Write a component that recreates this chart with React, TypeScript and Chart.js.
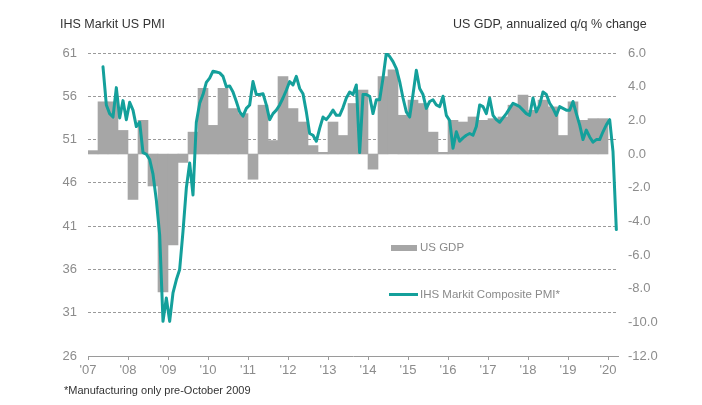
import React, { useEffect, useRef } from "react";
import { Chart, registerables } from "chart.js";

Chart.register(...registerables);

// ---- Data ----
// X positions are months counted from Jan 2007 (0 = Jan 2007)
const yearTickLabels = ["'07", "'08", "'09", "'10", "'11", "'12", "'13", "'14", "'15", "'16", "'17", "'18", "'19", "'20"];

// IHS Markit PMI, monthly, May 2007 .. Mar 2020
const pmiStartMonth = 4; // May 2007
const pmiValues = [
  59.4, 55.0, 54.0, 53.6, 57.0, 53.5, 55.5, 53.3, // May-Dec 2007
  55.3, 54.4, 52.5, 53.0, 49.5, 49.3, 48.7, 47.0, 44.0, 40.0, 30.0, 32.7, // 2008
  30.0, 33.3, 34.8, 36.0, 40.4, 45.4, 48.3, 44.6, 53.0, 55.2, 56.2, 57.6, // 2009
  58.1, 58.9, 58.8, 58.7, 58.3, 57.1, 57.2, 56.5, 55.4, 54.2, 53.7, 54.6, // 2010
  55.0, 57.7, 56.2, 56.2, 56.3, 55.0, 53.3, 54.0, 54.4, 55.0, 55.8, 56.7, // 2011
  57.7, 57.3, 58.3, 56.9, 56.3, 54.2, 51.7, 51.5, 50.8, 52.3, 53.6, 53.3, // 2012
  53.8, 54.4, 53.8, 53.8, 54.7, 55.8, 56.5, 56.2, 57.3, 49.5, 56.2, 56.2, // 2013
  56.0, 54.0, 55.6, 55.6, 58.1, 61.0, 60.6, 60.0, 59.2, 57.7, 55.8, 54.2, // 2014
  53.6, 56.2, 59.0, 56.9, 56.2, 54.6, 55.4, 55.6, 55.0, 54.8, 56.0, 53.8, // 2015
  53.2, 50.0, 51.9, 50.8, 51.2, 51.5, 51.7, 51.5, 52.5, 55.0, 54.8, 54.0, // 2016
  55.8, 53.8, 53.3, 53.0, 53.5, 54.0, 54.6, 55.2, 55.0, 54.8, 54.4, 54.0, // 2017
  53.8, 55.8, 54.2, 55.0, 56.5, 56.2, 55.2, 54.6, 53.8, 54.8, 54.6, 54.4, // 2018
  54.4, 55.4, 54.0, 52.7, 51.0, 52.1, 51.3, 50.7, 51.0, 51.0, 51.9, 52.7, // 2019
  53.3, 49.6, 40.6, // Jan-Mar 2020
];

// US GDP, annualized q/q % change, Q1 2007 .. Q4 2019
const gdpStartQuarter = 0; // Q1 2007
const gdpValues = [
  0.2, 3.1, 3.1, 1.4, // 2007
  -2.7, 2.0, -1.9, -8.2, // 2008
  -5.4, -0.5, 1.3, 3.9, // 2009
  1.7, 3.9, 2.7, 2.4, // 2010
  -1.5, 2.9, 0.8, 4.6, // 2011
  2.7, 1.9, 0.5, 0.1, // 2012
  1.9, 1.1, 3.0, 3.8, // 2013
  -0.9, 4.6, 5.0, 2.3, // 2014
  3.2, 3.0, 1.3, 0.1, // 2015
  2.0, 1.9, 2.2, 2.0, // 2016
  2.1, 2.2, 2.9, 3.5, // 2017
  2.6, 3.2, 2.8, 1.1, // 2018
  3.1, 2.0, 2.1, 2.1, // 2019
];

const TEAL = "#14a09b";
const GRAY = "#a6a6a6";
const FONT = "'Liberation Sans', Arial, Helvetica, sans-serif";

export default function App() {
  const canvasRef = useRef<HTMLCanvasElement | null>(null);

  useEffect(() => {
    if (!canvasRef.current) return;
    const pmiPoints = pmiValues.map((v, i) => ({ x: pmiStartMonth + i + 0.5, y: v }));
    const gdpPoints = gdpValues.map((v, i) => ({ x: (gdpStartQuarter + i) * 3 + 1.5, y: v }));

    const chart = new Chart(canvasRef.current, {
      type: "line",
      data: {
        datasets: [
          {
            type: "line",
            label: "IHS Markit Composite PMI*",
            data: pmiPoints,
            yAxisID: "y",
            borderColor: TEAL,
            backgroundColor: TEAL,
            borderWidth: 3,
            pointRadius: 0,
            tension: 0,
            fill: false,
            borderJoinStyle: "round",
            borderCapStyle: "round",
            order: 0,
          } as any,
          {
            type: "bar",
            label: "US GDP",
            data: gdpPoints,
            yAxisID: "y1",
            backgroundColor: GRAY,
            borderWidth: 0,
            barPercentage: 1,
            categoryPercentage: 1,
            order: 1,
          } as any,
        ],
      },
      options: {
        responsive: false,
        animation: false,
        layout: { padding: { top: 53, left: 0, right: 0, bottom: 0 } },
        font: { family: FONT },
        plugins: {
          legend: { display: false },
          tooltip: { enabled: false },
          title: { display: false },
        },
        scales: {
          x: {
            type: "linear",
            min: 0,
            max: 159,
            offset: false,
            afterBuildTicks: (axis: any) => {
              axis.ticks = yearTickLabels.map((_, i) => ({ value: i * 12 }));
            },
            afterFit: (s: any) => {
              s.height = 49;
            },
            ticks: {
              autoSkip: false,
              maxRotation: 0,
              minRotation: 0,
              padding: 3,
              color: "#8c8c8c",
              font: { family: FONT, size: 13 },
              callback: (v: any) => {
                const idx = Math.round(Number(v) / 12);
                return yearTickLabels[idx] ?? "";
              },
            },
            grid: {
              display: true,
              drawOnChartArea: false,
              drawTicks: true,
              tickLength: 4,
              color: "#9a9a9a",
              offset: false,
            },
            border: { display: true, color: "#9a9a9a", width: 1 },
          } as any,
          y: {
            type: "linear",
            position: "left",
            min: 26,
            max: 61,
            afterFit: (s: any) => {
              s.width = 88;
            },
            ticks: {
              stepSize: 5,
              padding: 11,
              color: "#8c8c8c",
              font: { family: FONT, size: 13 },
            },
            grid: {
              drawTicks: false,
              lineWidth: 1,
              color: (c: any) => (c.tick && c.tick.value === 26 ? "rgba(0,0,0,0)" : "#9a9a9a"),
            },
            border: { display: false, dash: [3, 2] },
          } as any,
          y1: {
            type: "linear",
            position: "right",
            min: -12,
            max: 6,
            afterFit: (s: any) => {
              s.width = 84;
            },
            ticks: {
              stepSize: 2,
              padding: 10,
              color: "#8c8c8c",
              font: { family: FONT, size: 13 },
              callback: (v: any) => Number(v).toFixed(1),
            },
            grid: { display: false, drawTicks: false },
            border: { display: false },
          } as any,
        },
      } as any,
    });
    return () => chart.destroy();
  }, []);

  const wrap: React.CSSProperties = {
    position: "fixed",
    left: 0,
    top: 0,
    width: 702,
    height: 405,
    background: "#ffffff",
    fontFamily: FONT,
    overflow: "hidden",
  };

  return (
    <div style={wrap}>
      <canvas ref={canvasRef} width={702} height={405} style={{ display: "block", width: 702, height: 405 }} />
      <div style={{ position: "absolute", left: 60, top: 16, fontSize: 12.5, lineHeight: "16px", color: "#333333", whiteSpace: "nowrap" }}>
        IHS Markit US PMI
      </div>
      <div style={{ position: "absolute", left: 453, top: 16, fontSize: 12.5, lineHeight: "16px", color: "#333333", whiteSpace: "nowrap" }}>
        US GDP, annualized q/q % change
      </div>
      <div style={{ position: "absolute", left: 64, top: 383, fontSize: 11, lineHeight: "14px", color: "#333333", whiteSpace: "nowrap" }}>
        *Manufacturing only pre-October 2009
      </div>
      {/* Legend */}
      <div style={{ position: "absolute", left: 391, top: 245, width: 26, height: 6, background: GRAY }} />
      <div style={{ position: "absolute", left: 420, top: 240, fontSize: 11.5, lineHeight: "15px", color: "#8a8a8a", whiteSpace: "nowrap" }}>
        US GDP
      </div>
      <div style={{ position: "absolute", left: 389, top: 293, width: 29, height: 3, background: TEAL }} />
      <div style={{ position: "absolute", left: 420, top: 287, fontSize: 11.5, lineHeight: "15px", color: "#8a8a8a", whiteSpace: "nowrap" }}>
        IHS Markit Composite PMI*
      </div>
    </div>
  );
}
